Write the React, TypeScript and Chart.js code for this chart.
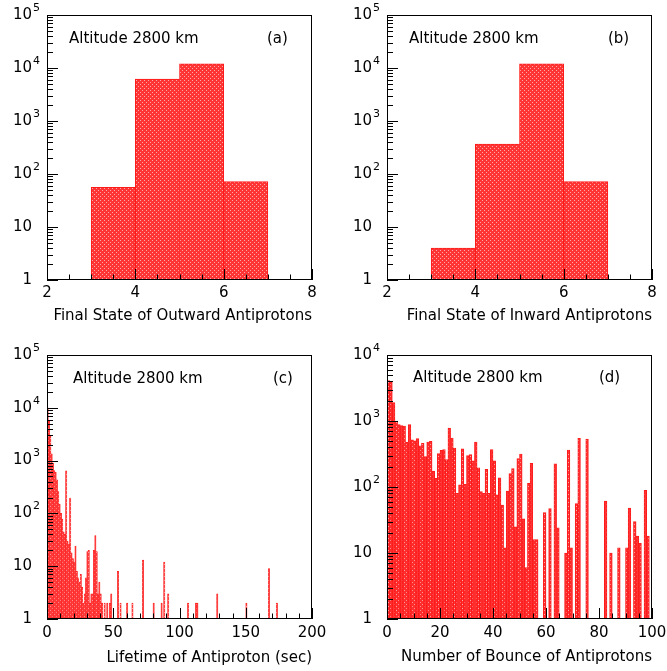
import React, { useEffect, useRef } from 'react';
import { Chart, registerables } from 'chart.js';

Chart.register(...registerables);

const FONT_FAMILY = '"DejaVu Sans", "Liberation Sans", sans-serif';
const NOTE_TEXT = 'Altitude 2800 km';

// Panels (a) and (b): final state histograms, bins of width 1 from 2 to 8
const STATE_BINS = [2.5, 3.5, 4.5, 5.5, 6.5, 7.5];
const OUTWARD_COUNTS = [0, 56, 6200, 12000, 72, 0];
const INWARD_COUNTS = [0, 4, 365, 12000, 72, 0];
const STATE_X_TICKS = [2, 4, 6, 8];

// Panel (c): lifetime histogram, 1 s bins from 0 to 200 (bin centres)
const LIFETIME_BINS = Array.from({ length: 200 }, (_, i) => i + 0.5);
const LIFETIME_COUNTS = [
  10000, 5600, 2900, 1350, 900, 650, 600, 430, 260, 150, 100, 78, 45, 40, 640, 30, 26, 195, 18, 14,
  12, 24, 8, 6, 5, 7, 4, 2, 3, 6, 19, 20, 2, 3, 3, 20, 38, 19, 3, 5,
  3, 2, 0, 2, 0, 2, 0, 2, 3, 0, 0, 0, 0, 8, 0, 2, 0, 0, 0, 0,
  2, 0, 0, 0, 2, 0, 0, 0, 0, 0, 0, 0, 13, 0, 0, 0, 0, 0, 0, 0,
  2, 0, 0, 0, 0, 0, 2, 0, 12, 0, 0, 3, 0, 0, 0, 0, 0, 0, 0, 0,
  0, 0, 0, 0, 0, 0, 2, 0, 0, 0, 0, 0, 2, 2, 0, 0, 0, 0, 0, 0,
  0, 0, 0, 0, 0, 0, 0, 0, 3, 0, 0, 0, 0, 0, 0, 0, 0, 0, 0, 0,
  0, 0, 0, 0, 0, 0, 0, 0, 0, 0, 2, 0, 0, 0, 0, 0, 0, 0, 0, 0,
  0, 0, 0, 0, 0, 0, 0, 9, 0, 0, 0, 0, 0, 2, 0, 0, 0, 0, 0, 0,
  0, 0, 0, 0, 0, 0, 0, 0, 0, 0, 0, 0, 0, 0, 0, 0, 0, 0, 0, 0,
];
const LIFETIME_X_TICKS = [0, 50, 100, 150, 200];

// Panel (d): number of bounces, bins of width 1 from 0 to 100 (bin centres)
const BOUNCE_BINS = Array.from({ length: 100 }, (_, i) => i + 0.5);
const BOUNCE_COUNTS = [
  4100, 3900, 1900, 1000, 880, 850, 840, 480, 880, 520,
  500, 540, 420, 460, 290, 480, 490, 175, 135, 320,
  360, 370, 260, 780, 550, 390, 80, 108, 380, 110,
  300, 310, 250, 480, 195, 85, 80, 185, 80, 370,
  250, 76, 138, 53, 12, 87, 160, 190, 25, 270,
  316, 33, 6, 114, 229, 16, 16, 0, 0, 41,
  0, 47, 0, 225, 24, 0, 0, 10, 364, 12,
  0, 56, 545, 0, 0, 530, 0, 0, 0, 0,
  0, 0, 61, 0, 10, 0, 0, 12, 0, 0,
  12, 48, 0, 30, 18, 14, 0, 89, 18, 0,
];
const BOUNCE_X_TICKS = [0, 20, 40, 60, 80, 100];

const Y_DECADES_5 = [1, 10, 100, 1000, 10000, 100000];
const Y_DECADES_4 = [1, 10, 100, 1000, 10000];

type PanelCfg = {
  id: string;
  left: number; top: number; w: number; h: number;
  padTop: number; padRight: number; yW: number; xH: number;
  tickPad: number; titlePad: number;
  bins: number[]; counts: number[];
  xMin: number; xMax: number; xTicks: number[]; xMinor: number; xMajor: number;
  decades: number[];
  title: string; tag: string; noteDx: number; noteDy: number; tagDx: number;
  bw: number;
};

const PANELS: PanelCfg[] = [
  {
    id: 'a', left: 0, top: 0, w: 334, h: 336, padTop: 15, padRight: 22, yW: 47, xH: 56,
    tickPad: 4, titlePad: 11, bins: STATE_BINS, counts: OUTWARD_COUNTS,
    xMin: 2, xMax: 8, xTicks: STATE_X_TICKS, xMinor: 0.5, xMajor: 2, decades: Y_DECADES_5,
    title: 'Final State of Outward Antiprotons', tag: '(a)', noteDx: 22, noteDy: 24, tagDx: 220, bw: 1,
  },
  {
    id: 'b', left: 334, top: 0, w: 333, h: 336, padTop: 15, padRight: 15, yW: 53, xH: 56,
    tickPad: 4, titlePad: 11, bins: STATE_BINS, counts: INWARD_COUNTS,
    xMin: 2, xMax: 8, xTicks: STATE_X_TICKS, xMinor: 0.5, xMajor: 2, decades: Y_DECADES_5,
    title: 'Final State of Inward Antiprotons', tag: '(b)', noteDx: 22, noteDy: 24, tagDx: 221, bw: 1,
  },
  {
    id: 'c', left: 0, top: 336, w: 334, h: 335, padTop: 19, padRight: 22, yW: 47, xH: 52,
    tickPad: 5, titlePad: 4, bins: LIFETIME_BINS, counts: LIFETIME_COUNTS,
    xMin: 0, xMax: 200, xTicks: LIFETIME_X_TICKS, xMinor: 10, xMajor: 50, decades: Y_DECADES_5,
    title: 'Lifetime of Antiproton (sec)', tag: '(c)', noteDx: 26, noteDy: 24, tagDx: 226, bw: 0.5,
  },
  {
    id: 'd', left: 334, top: 336, w: 333, h: 335, padTop: 19, padRight: 15, yW: 53, xH: 52,
    tickPad: 5, titlePad: 5, bins: BOUNCE_BINS, counts: BOUNCE_COUNTS,
    xMin: 0, xMax: 100, xTicks: BOUNCE_X_TICKS, xMinor: 5, xMajor: 20, decades: Y_DECADES_4,
    title: 'Number of Bounce of Antiprotons', tag: '(d)', noteDx: 26, noteDy: 23, tagDx: 212, bw: 1,
  },
];

function makeDotPattern(ctx: CanvasRenderingContext2D): CanvasPattern | string {
  const tile = document.createElement('canvas');
  tile.width = 4;
  tile.height = 4;
  const g = tile.getContext('2d');
  if (!g) return '#ff3a3a';
  g.fillStyle = '#ff3434';
  g.fillRect(0, 0, 4, 4);
  g.fillStyle = '#ffa8a8';
  g.fillRect(0, 0, 1, 1);
  g.fillRect(2, 2, 1, 1);
  return ctx.createPattern(tile, 'repeat') || '#ff3a3a';
}

const decorPlugin = {
  id: 'decor',
  afterDatasetsDraw(chart: any, _args: any, o: any) {
    const { ctx, chartArea: a } = chart;
    const xs = chart.scales.x;
    const ys = chart.scales.y;
    ctx.save();
    ctx.strokeStyle = '#000';
    ctx.lineWidth = 1;
    ctx.beginPath();
    const dec: number[] = o.decades;
    dec.forEach((v: number, k: number) => {
      const py = Math.round(ys.getPixelForValue(v)) + 0.5;
      ctx.moveTo(a.left, py);
      ctx.lineTo(a.left + 11, py);
      if (k < dec.length - 1) {
        for (let m = 2; m <= 9; m++) {
          const pm = Math.round(ys.getPixelForValue(v * m)) + 0.5;
          ctx.moveTo(a.left, pm);
          ctx.lineTo(a.left + 6, pm);
        }
      }
    });
    const n = Math.round((xs.max - xs.min) / o.xMinor);
    for (let i = 0; i <= n; i++) {
      const t = xs.min + i * o.xMinor;
      const px = Math.round(xs.getPixelForValue(t)) + 0.5;
      const r = t / o.xMajor;
      const len = Math.abs(r - Math.round(r)) < 1e-6 ? 11 : 5.5;
      ctx.moveTo(px, a.bottom);
      ctx.lineTo(px, a.bottom - len);
    }
    ctx.stroke();
    ctx.strokeRect(a.left + 0.5, a.top + 0.5, a.right - a.left - 1, a.bottom - a.top - 1);

    ctx.fillStyle = '#000';
    ctx.textBaseline = 'middle';
    dec.forEach((v: number) => {
      const py = ys.getPixelForValue(v);
      const e = Math.round(Math.log10(v));
      ctx.font = `15px ${FONT_FAMILY}`;
      ctx.textAlign = 'right';
      ctx.fillText(e >= 2 ? '10' : String(v), a.left - 15, py);
      if (e >= 2) {
        ctx.font = `11px ${FONT_FAMILY}`;
        ctx.textAlign = 'left';
        ctx.fillText(String(e), a.left - 14, py - 7);
      }
    });
    ctx.font = `15px ${FONT_FAMILY}`;
    ctx.textAlign = 'left';
    ctx.fillText(o.note, a.left + o.noteDx, a.top + o.noteDy);
    ctx.fillText(o.tag, a.left + o.tagDx, a.top + o.noteDy);
    ctx.restore();
  },
};

function Panel({ cfg }: { cfg: PanelCfg }) {
  const ref = useRef<HTMLCanvasElement>(null);
  useEffect(() => {
    const canvas = ref.current;
    if (!canvas) return;
    const ctx = canvas.getContext('2d');
    if (!ctx) return;
    const pattern = makeDotPattern(ctx);
    const chart = new Chart(ctx, {
      type: 'bar',
      data: {
        datasets: [
          {
            data: cfg.bins.map((c, i) => ({ x: c, y: cfg.counts[i] > 0 ? cfg.counts[i] : null })),
            backgroundColor: pattern as any,
            borderColor: '#ff1a1a',
            borderWidth: cfg.bw,
            barPercentage: 1,
            categoryPercentage: 1,
          } as any,
        ],
      },
      options: {
        responsive: false,
        animation: false,
        devicePixelRatio: 1,
        events: [],
        layout: { padding: { top: cfg.padTop, right: cfg.padRight, left: 0, bottom: 0 } },
        plugins: {
          legend: { display: false },
          tooltip: { enabled: false },
          decor: {
            decades: cfg.decades,
            xMinor: cfg.xMinor,
            xMajor: cfg.xMajor,
            note: NOTE_TEXT,
            tag: cfg.tag,
            noteDx: cfg.noteDx,
            noteDy: cfg.noteDy,
            tagDx: cfg.tagDx,
          },
        } as any,
        scales: {
          x: {
            type: 'linear',
            min: cfg.xMin,
            max: cfg.xMax,
            offset: false,
            grid: { display: false, drawTicks: false },
            border: { display: false },
            ticks: {
              autoSkip: false,
              maxRotation: 0,
              padding: cfg.tickPad,
              color: '#000',
              font: { family: FONT_FAMILY, size: 15 },
            },
            afterBuildTicks: (s: any) => {
              s.ticks = cfg.xTicks.map((v) => ({ value: v }));
            },
            afterFit: (s: any) => {
              s.height = cfg.xH;
              s.paddingLeft = 0;
              s.paddingRight = 0;
            },
            title: {
              display: true,
              text: cfg.title,
              align: 'end',
              color: '#000',
              font: { family: FONT_FAMILY, size: 15 },
              padding: { top: 0, bottom: cfg.titlePad },
            },
          } as any,
          y: {
            type: 'logarithmic',
            min: 1,
            max: cfg.decades[cfg.decades.length - 1],
            grid: { display: false, drawTicks: false },
            border: { display: false },
            ticks: { display: false },
            afterFit: (s: any) => {
              s.width = cfg.yW;
              s.paddingTop = 0;
              s.paddingBottom = 0;
            },
          } as any,
        },
      },
      plugins: [decorPlugin as any],
    });
    return () => chart.destroy();
  }, [cfg]);
  return (
    <canvas
      ref={ref}
      width={cfg.w}
      height={cfg.h}
      style={{ position: 'absolute', left: cfg.left, top: cfg.top, width: cfg.w, height: cfg.h, display: 'block' }}
    />
  );
}

export default function App() {
  return (
    <div style={{ position: 'absolute', left: 0, top: 0, width: 667, height: 671, background: '#fff', overflow: 'hidden' }}>
      {PANELS.map((p) => (
        <Panel key={p.id} cfg={p} />
      ))}
    </div>
  );
}
